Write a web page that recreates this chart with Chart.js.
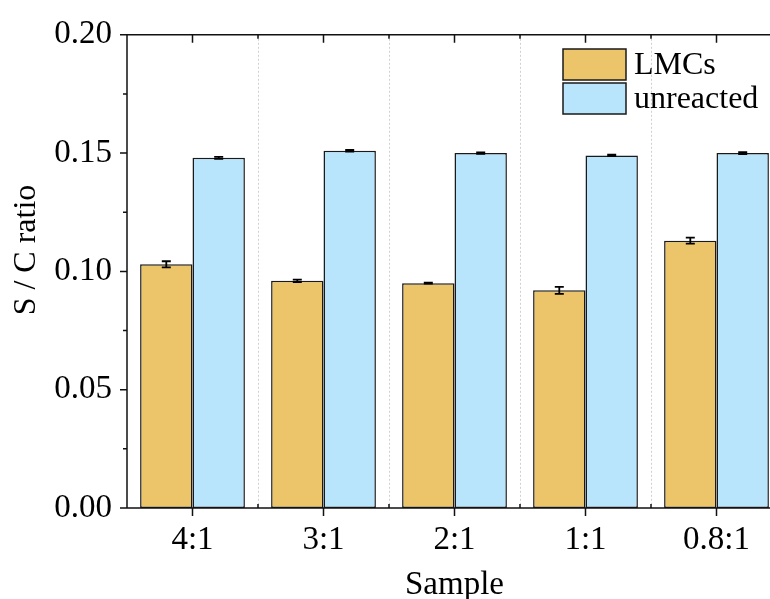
<!DOCTYPE html>
<html>
<head>
<meta charset="utf-8">
<script src="https://cdn.jsdelivr.net/npm/chart.js@4.4.1/dist/chart.umd.min.js"></script>
<style>
  html, body { margin: 0; padding: 0; background: #fff; overflow: hidden; }
  #wrap { width: 800px; height: 620px; }
</style>
</head>
<body>
<div id="wrap"><canvas id="chart"></canvas></div>
<script>
// values
const categories      = ['4:1', '3:1', '2:1', '1:1', '0.8:1'];
const lmcValues       = [0.103, 0.096, 0.095, 0.092, 0.113];
const lmcErrors       = [0.0013, 0.0005, 0.0002, 0.0015, 0.0013];
const unreactedValues = [0.148, 0.151, 0.150, 0.149, 0.150];
const unreactedErrors = [0.0004, 0.0004, 0.0003, 0.0003, 0.0004];
const yMin = 0, yMax = 0.20, yStep = 0.05;

const FONT = "'Liberation Serif', 'Times New Roman', serif";
const colors = {
  lmc:       'rgb(236, 197, 106)',
  unreacted: 'rgb(184, 228, 252)',
  edge:      '#1a1a1a',
  axis:      '#111',
  grid:      '#d0d0d0',
};

// axes frame, ticks, dotted separators, error bars, legend, y title
const framePlugin = {
  id: 'frame',
  beforeDatasetsDraw(chart) {
    const { ctx, chartArea: a } = chart;
    const w = (a.right - a.left) / categories.length;
    ctx.save();
    ctx.strokeStyle = colors.grid;
    ctx.lineWidth = 1;
    ctx.setLineDash([2, 2]);
    for (let k = 1; k < categories.length; k++) {
      const px = Math.round(a.left + k * w) + 0.5;
      ctx.beginPath();
      ctx.moveTo(px, a.top);
      ctx.lineTo(px, a.bottom);
      ctx.stroke();
    }
    ctx.restore();
  },
  afterDatasetsDraw(chart) {
    const { ctx, chartArea: a, scales: { x, y } } = chart;
    const n = categories.length;
    const w = (a.right - a.left) / n;

    // error bars
    const errs = [lmcErrors, unreactedErrors];
    ctx.save();
    ctx.strokeStyle = '#000';
    ctx.lineWidth = 1.8;
    chart.data.datasets.forEach((ds, i) => {
      const meta = chart.getDatasetMeta(i);
      meta.data.forEach((bar, j) => {
        const v = ds.data[j], e = errs[i][j];
        const y1 = y.getPixelForValue(v + e), y2 = y.getPixelForValue(v - e);
        ctx.beginPath();
        ctx.moveTo(bar.x, y1); ctx.lineTo(bar.x, y2);
        ctx.moveTo(bar.x - 4.5, y1); ctx.lineTo(bar.x + 4.5, y1);
        ctx.moveTo(bar.x - 4.5, y2); ctx.lineTo(bar.x + 4.5, y2);
        ctx.stroke();
      });
    });

    // axis lines
    ctx.strokeStyle = colors.axis;
    ctx.lineWidth = 1.5;
    ctx.beginPath();
    ctx.moveTo(a.left, a.top); ctx.lineTo(a.left, a.bottom);
    ctx.moveTo(a.left, a.bottom); ctx.lineTo(a.right, a.bottom);
    ctx.moveTo(a.left, a.top); ctx.lineTo(a.right, a.top);
    ctx.moveTo(a.right, a.top); ctx.lineTo(a.right, a.bottom);
    ctx.stroke();

    // y ticks: major out 7px, minor out 4px
    ctx.beginPath();
    for (let v = yMin; v <= yMax + 1e-9; v += yStep / 2) {
      const py = y.getPixelForValue(v);
      const major = Math.abs(v / yStep - Math.round(v / yStep)) < 1e-6;
      ctx.moveTo(a.left, py);
      ctx.lineTo(a.left - (major ? 7 : 4), py);
    }
    // x ticks: centres out (bottom) / in (top), boundaries in
    categories.forEach((c, i) => {
      const px = x.getPixelForValue(i);
      ctx.moveTo(px, a.bottom); ctx.lineTo(px, a.bottom + 8);
      ctx.moveTo(px, a.top);    ctx.lineTo(px, a.top + 8);
    });
    for (let k = 1; k < n; k++) {
      const px = a.left + k * w;
      ctx.moveTo(px, a.bottom); ctx.lineTo(px, a.bottom - 4);
      ctx.moveTo(px, a.top);    ctx.lineTo(px, a.top + 4);
    }
    ctx.stroke();

    // legend
    ctx.font = `32px ${FONT}`;
    ctx.textBaseline = 'middle';
    ctx.textAlign = 'left';
    chart.data.datasets.forEach((ds, i) => {
      const bx = 563, by = 49 + i * 34, bw = 63, bh = 31;
      ctx.fillStyle = ds.backgroundColor;
      ctx.fillRect(bx, by, bw, bh);
      ctx.lineWidth = 1.5;
      ctx.strokeStyle = colors.edge;
      ctx.strokeRect(bx, by, bw, bh);
      ctx.fillStyle = '#000';
      ctx.fillText(ds.label, bx + bw + 8, by + bh / 2 + 1);
    });

    // y title
    ctx.translate(27, 250);
    ctx.rotate(-Math.PI / 2);
    ctx.textAlign = 'center';
    ctx.fillStyle = '#000';
    ctx.fillText('S / C ratio', 0, 0);
    ctx.restore();
  }
};

new Chart(document.getElementById('chart'), {
  type: 'bar',
  data: {
    labels: categories,
    datasets: [
      {
        label: 'LMCs',
        data: lmcValues,
        backgroundColor: colors.lmc,
        borderColor: colors.edge,
        borderWidth: 1.5,
        borderSkipped: false,
      },
      {
        label: 'unreacted',
        data: unreactedValues,
        backgroundColor: colors.unreacted,
        borderColor: colors.edge,
        borderWidth: 1.5,
        borderSkipped: false,
      }
    ]
  },
  options: {
    responsive: true,
    maintainAspectRatio: false,
    animation: false,
    devicePixelRatio: 1,
    categoryPercentage: 0.8,
    barPercentage: 1.0,
    layout: { padding: { top: 32, right: 18, left: 0, bottom: 0 } },
    plugins: {
      legend: { display: false },
      tooltip: { enabled: false },
    },
    scales: {
      x: {
        offset: true,
        grid: { display: false, drawTicks: false },
        border: { display: false },
        ticks: { color: '#000', padding: 13, font: { family: FONT, size: 33 }, maxRotation: 0 },
        title: { display: true, text: 'Sample', color: '#000',
                 font: { family: FONT, size: 33 }, padding: { top: 0, bottom: 15 } },
        afterFit: (s) => { s.height = 112; }
      },
      y: {
        min: yMin,
        max: yMax,
        grid: { display: false, drawTicks: false },
        border: { display: false },
        ticks: { stepSize: yStep, color: '#000', padding: 15,
                 font: { family: FONT, size: 33 },
                 callback: (v) => Number(v).toFixed(2) },
        afterFit: (s) => { s.width = 127; }
      }
    }
  },
  plugins: [framePlugin]
});
</script>
</body>
</html>
